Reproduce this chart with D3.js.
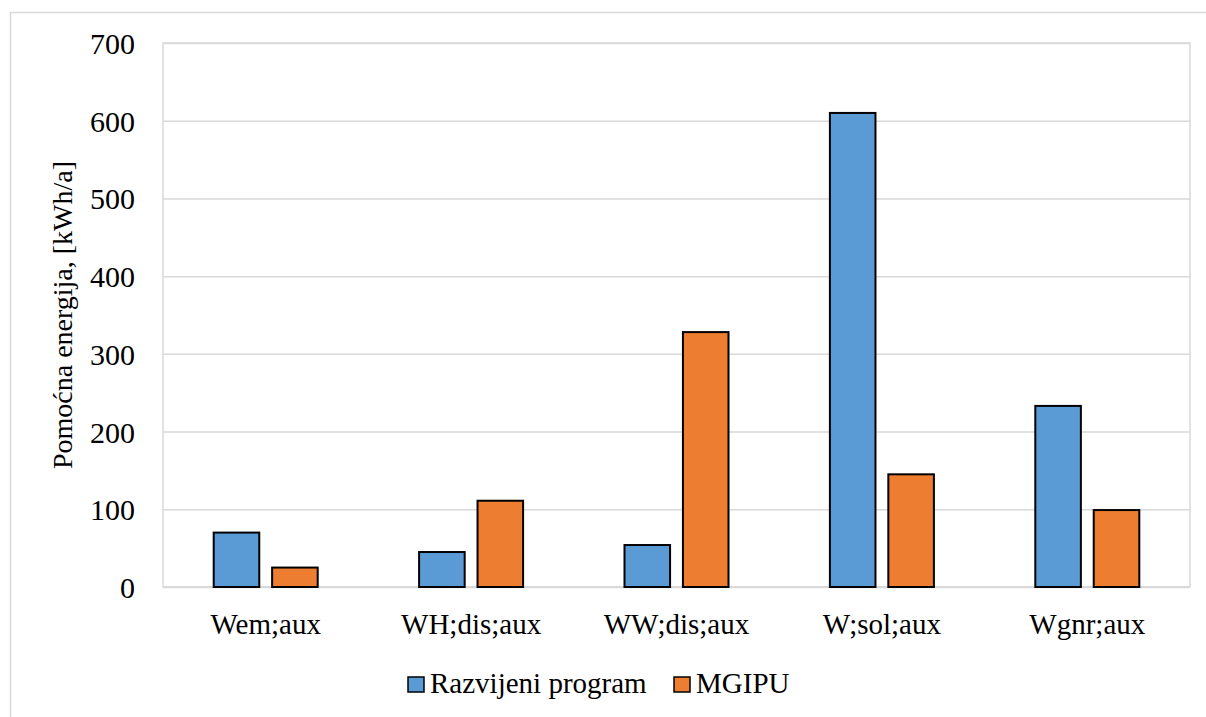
<!DOCTYPE html>
<html>
<head>
<meta charset="utf-8">
<script src="https://cdn.jsdelivr.net/npm/d3@7"></script>
<style>
  body { margin: 0; background: #fff; }
  svg text { font-family: "Liberation Serif", serif !important; }
</style>
</head>
<body>
<div id="chart_div"></div>
<script>
const categories = ["Wem;aux", "WH;dis;aux", "WW;dis;aux", "W;sol;aux", "Wgnr;aux"];
const seriesNames = ["Razvijeni program", "MGIPU"];
const razvijeniValues = [70, 45, 54, 610, 233];
const mgipuValues = [25, 111, 328, 145, 99];
const yTicks = [0, 100, 200, 300, 400, 500, 600, 700];

const colors = ["#5B9BD5", "#ED7D31"];
const fontFamily = "Liberation Serif";
const width = 1206, height = 717;
const margin = {top: 43, right: 16, bottom: 130, left: 163};
const plotWidth = width - margin.left - margin.right;
const plotHeight = height - margin.top - margin.bottom;

const svg = d3.select("#chart_div")
  .append("svg")
  .attr("width", width)
  .attr("height", height);

// outer chart frame (cut off at right and bottom)
svg.append("rect")
  .attr("x", 10.5).attr("y", 12.5)
  .attr("width", width + 10).attr("height", height + 10)
  .attr("fill", "none")
  .attr("stroke", "#D9D9D9")
  .attr("stroke-width", 1.5);

const g = svg.append("g")
  .attr("transform", "translate(" + margin.left + "," + margin.top + ")");

const xScale = d3.scaleBand()
  .domain(categories)
  .range([0, plotWidth])
  .paddingInner(0)
  .paddingOuter(0);

const xInner = d3.scaleBand()
  .domain(seriesNames)
  .range([xScale.bandwidth() / 2 - 52, xScale.bandwidth() / 2 + 52])
  .paddingInner(0.22);

const yScale = d3.scaleLinear()
  .domain([0, 700])
  .range([plotHeight, 0]);

// plot area border
g.append("rect")
  .attr("x", 0).attr("y", 0)
  .attr("width", plotWidth).attr("height", plotHeight)
  .attr("fill", "none")
  .attr("stroke", "#D9D9D9")
  .attr("stroke-width", 1.5);

// gridlines
g.append("g")
  .call(d3.axisLeft(yScale).tickValues(yTicks).tickSize(-plotWidth).tickFormat(""))
  .call(s => s.select(".domain").remove())
  .call(s => s.selectAll("line").attr("stroke", "#D9D9D9").attr("stroke-width", 1.5));

// y axis labels
g.append("g")
  .call(d3.axisLeft(yScale).tickValues(yTicks).tickSize(0).tickPadding(28))
  .attr("font-family", null)
  .call(s => s.select(".domain").remove())
  .call(s => s.selectAll("text")
    .style("font-family", fontFamily, "important")
    .attr("font-size", 30)
    .attr("fill", "#000")
    .attr("dy", "0.35em"));

// x axis labels
g.append("g")
  .attr("transform", "translate(0," + plotHeight + ")")
  .call(d3.axisBottom(xScale).tickSize(0).tickPadding(26))
  .attr("font-family", null)
  .call(s => s.select(".domain").remove())
  .call(s => s.selectAll("text")
    .style("font-family", fontFamily, "important")
    .attr("font-size", 29)
    .attr("fill", "#000"));

// bottom axis line
g.append("line")
  .attr("x1", 0).attr("x2", plotWidth)
  .attr("y1", plotHeight).attr("y2", plotHeight)
  .attr("stroke", "#D9D9D9").attr("stroke-width", 2);

const tableData = categories.map((c, i) => ({
  category: c,
  values: [
    {name: seriesNames[0], value: razvijeniValues[i]},
    {name: seriesNames[1], value: mgipuValues[i]}
  ]
}));

g.selectAll(".group")
  .data(tableData)
  .join("g")
  .attr("class", "group")
  .attr("transform", d => "translate(" + xScale(d.category) + ",0)")
  .selectAll("rect")
  .data(d => d.values)
  .join("rect")
  .attr("x", d => xInner(d.name))
  .attr("y", d => yScale(d.value))
  .attr("width", xInner.bandwidth())
  .attr("height", d => plotHeight - yScale(d.value))
  .attr("fill", (d, i) => colors[i])
  .attr("stroke", "#000")
  .attr("stroke-width", 2);

// y axis title
svg.append("text")
  .attr("transform", "translate(72," + (margin.top + plotHeight / 2) + ") rotate(-90)")
  .attr("text-anchor", "middle")
  .style("font-family", fontFamily, "important")
  .attr("font-size", 28)
  .text("Pomoćna energija, [kWh/a]");

// legend
const legend = svg.append("g")
  .attr("transform", "translate(408,677)");

const legendX = [0, 266];
seriesNames.forEach((name, i) => {
  const item = legend.append("g").attr("transform", "translate(" + legendX[i] + ",0)");
  item.append("rect")
    .attr("width", 16).attr("height", 15)
    .attr("fill", colors[i])
    .attr("stroke", "#000")
    .attr("stroke-width", 1.5);
  item.append("text")
    .attr("x", 22).attr("y", 16)
    .style("font-family", fontFamily, "important")
    .attr("font-size", 29)
    .text(name);
});
</script>
</body>
</html>
